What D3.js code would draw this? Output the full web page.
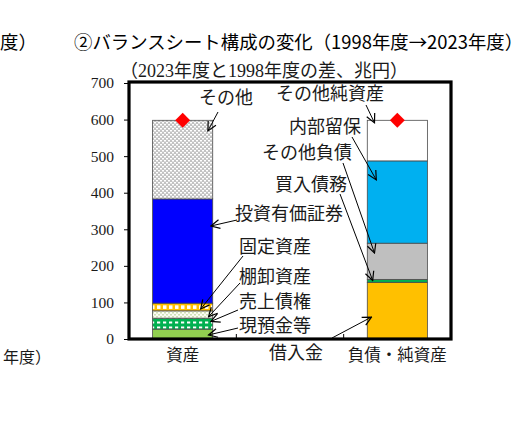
<!DOCTYPE html>
<html>
<head>
<meta charset="utf-8">
<script src="https://cdn.jsdelivr.net/npm/d3@7"></script>
<style>
  body { margin: 0; background: #fff; }
  svg { display: block; }
</style>
</head>
<body>
<div id="chart"></div>
<script>
// categories on the x axis (the middle slot is empty, as in the original)
var categories = ["資産", "", "負債・純資産"];

// assets side, bottom to top (兆円)
var assetItems  = ["現預金等", "売上債権", "棚卸資産", "固定資産", "投資有価証券", "その他"];
var assetValues = [27, 30, 20, 21, 285, 215];

// liabilities & net assets side, bottom to top (兆円)
var liabItems  = ["借入金", "買入債務", "その他負債", "内部留保", "その他純資産"];
var liabValues = [155, 8, 99, 225, 111];

// total change (red diamonds)
var totalCats   = ["資産", "負債・純資産"];
var totalValues = [598, 598];

var yTicks = [0, 100, 200, 300, 400, 500, 600, 700];

// where each callout arrow points: value on the y axis and share across the bar
var calloutTips = {
    "その他":       { cat: "資産", value: 569, at: 0.92 },
    "投資有価証券": { cat: "資産", value: 309, at: 0.97 },
    "固定資産":     { cat: "資産", value: 82,  at: 0.80 },
    "棚卸資産":     { cat: "資産", value: 61,  at: 0.93 },
    "売上債権":     { cat: "資産", value: 48,  at: 0.97 },
    "現預金等":     { cat: "資産", value: 11,  at: 0.93 },
    "その他純資産": { cat: "負債・純資産", value: 591, at: 0.12 },
    "内部留保":     { cat: "負債・純資産", value: 435, at: 0.15 },
    "その他負債":   { cat: "負債・純資産", value: 235, at: 0.12 },
    "買入債務":     { cat: "負債・純資産", value: 160, at: 0.09 },
    "借入金":       { cat: "負債・純資産", value: 60,  at: 0.07 }
};

// label placement (pixels): text left/centre and where the leader line starts
var calloutLayout = {
    "その他":       { tx: 199, ty: 98,  lx: 218, ly: 112 },
    "投資有価証券": { tx: 235, ty: 214, lx: 237, ly: 220 },
    "固定資産":     { tx: 239, ty: 247, lx: 243, ly: 256 },
    "棚卸資産":     { tx: 239, ty: 277, lx: 240, ly: 283 },
    "売上債権":     { tx: 239, ty: 302, lx: 238, ly: 310 },
    "現預金等":     { tx: 239, ty: 326, lx: 238, ly: 328 },
    "その他純資産": { tx: 276, ty: 94,  lx: 366, ly: 105 },
    "内部留保":     { tx: 289, ty: 127, lx: 352, ly: 137 },
    "その他負債":   { tx: 262, ty: 153, lx: 343, ly: 163 },
    "買入債務":     { tx: 275, ty: 185, lx: 340, ly: 194 },
    "借入金":       { tx: 269, ty: 353, lx: 332, ly: 338 }
};

var width = 528, height = 429;
var plot = { left: 129, right: 451, top: 83, bottom: 339 };

var serif = "'Liberation Serif', 'Noto Sans CJK JP', serif";
var gothic = "'Noto Sans CJK JP', sans-serif";

var svg = d3.select("#chart").append("svg")
    .attr("width", width)
    .attr("height", height);

var defs = svg.append("defs");

// fill patterns
function makePattern(id, w, h, bg, fg, cells) {
    var p = defs.append("pattern")
        .attr("id", id)
        .attr("patternUnits", "userSpaceOnUse")
        .attr("width", w).attr("height", h);
    p.append("rect").attr("width", w).attr("height", h).attr("fill", bg);
    cells.forEach(function (c) {
        p.append("rect")
            .attr("x", c[0]).attr("y", c[1])
            .attr("width", c[2]).attr("height", c[3])
            .attr("fill", fg);
    });
}
makePattern("pOther", 4, 4, "#c2c2c2", "#ffffff", [[0, 0, 2, 1.5], [2, 2, 2, 1.5]]);
makePattern("pFixed", 6, 7.4, "#ffc000", "#ffffff", [[1, 2, 3.5, 3.5]]);
makePattern("pInv", 4, 4, "#fcfcf4", "#cfe0b6", [[0, 0, 2, 1.5], [2, 2, 2, 1.5]]);
makePattern("pRecv", 6, 5, "#00b050", "#ffffff", [[1, 1.5, 3.2, 2]]);

var assetFills = ["#92d050", "url(#pRecv)", "url(#pInv)", "url(#pFixed)", "#0000ff", "url(#pOther)"];
var liabFills  = ["#ffc000", "#00b050", "#bfbfbf", "#00b0f0", "#ffffff"];

defs.append("marker")
    .attr("id", "arrow")
    .attr("viewBox", "0 0 10 10")
    .attr("refX", 9).attr("refY", 5)
    .attr("markerUnits", "userSpaceOnUse")
    .attr("markerWidth", 11).attr("markerHeight", 11)
    .attr("orient", "auto")
  .append("path")
    .attr("d", "M1,1 L9,5 L1,9")
    .attr("fill", "none")
    .attr("stroke", "#000")
    .attr("stroke-width", 1.1);

// scales
var x = d3.scaleBand()
    .domain(categories)
    .range([plot.left, plot.right]);

var barWidth = x.bandwidth() * 0.56;

var y = d3.scaleLinear()
    .domain([0, 700])
    .range([plot.bottom, plot.top]);

// stacked segments
function stackSegments(cat, items, values, fills) {
    var cum = 0;
    return items.map(function (name, i) {
        var seg = { cat: cat, name: name, y0: cum, y1: cum + values[i], fill: fills[i] };
        cum += values[i];
        return seg;
    });
}
var segments = stackSegments("資産", assetItems, assetValues, assetFills)
    .concat(stackSegments("負債・純資産", liabItems, liabValues, liabFills));

function barLeft(cat) {
    return x(cat) + (x.bandwidth() - barWidth) / 2;
}

svg.append("g").selectAll("rect")
    .data(segments)
    .enter().append("rect")
    .attr("x", function (d) { return barLeft(d.cat); })
    .attr("y", function (d) { return y(d.y1); })
    .attr("width", barWidth)
    .attr("height", function (d) { return y(d.y0) - y(d.y1); })
    .attr("fill", function (d) { return d.fill; })
    .attr("stroke", "#4a4a4a")
    .attr("stroke-width", 0.8);

// red diamonds for the totals
svg.append("g").selectAll("path")
    .data(totalValues)
    .enter().append("path")
    .attr("d", d3.symbol().type(d3.symbolSquare).size(112))
    .attr("transform", function (d, i) {
        return "translate(" + (x(totalCats[i]) + x.bandwidth() / 2) + "," + y(d) + ") rotate(45)";
    })
    .attr("fill", "#ff0000");

// y axis
var yAxis = svg.append("g")
    .attr("transform", "translate(" + plot.left + ",0)")
    .call(d3.axisLeft(y).tickValues(yTicks).tickSize(5).tickPadding(10));
yAxis.select(".domain").remove();
yAxis.selectAll("line").attr("stroke", "#000").attr("stroke-width", 1);
yAxis.selectAll("text")
    .attr("font-family", serif)
    .attr("font-size", 15.5)
    .attr("fill", "#1a1a1a");

// category ticks between the bands, pointing up from the axis
svg.append("g").selectAll("line")
    .data(categories.slice(1))
    .enter().append("line")
    .attr("x1", function (d) { return x(d); })
    .attr("x2", function (d) { return x(d); })
    .attr("y1", plot.bottom)
    .attr("y2", plot.bottom - 5)
    .attr("stroke", "#000")
    .attr("stroke-width", 1);

// plot frame
svg.append("rect")
    .attr("x", plot.left)
    .attr("y", plot.top - 1)
    .attr("width", plot.right - plot.left)
    .attr("height", plot.bottom - plot.top + 1)
    .attr("fill", "none")
    .attr("stroke", "#000")
    .attr("stroke-width", 3.2);

// category labels
svg.append("g").selectAll("text")
    .data(categories.filter(function (d) { return d !== ""; }))
    .enter().append("text")
    .attr("x", function (d) { return x(d) + x.bandwidth() / 2; })
    .attr("y", 355)
    .attr("text-anchor", "middle")
    .attr("dominant-baseline", "central")
    .attr("font-family", serif)
    .attr("font-size", 16.5)
    .attr("fill", "#1a1a1a")
    .text(function (d) { return d; });

// callouts
var calloutNames = assetItems.concat(liabItems);
var callouts = svg.append("g");

callouts.selectAll("line")
    .data(calloutNames)
    .enter().append("line")
    .attr("x1", function (d) { return calloutLayout[d].lx; })
    .attr("y1", function (d) { return calloutLayout[d].ly; })
    .attr("x2", function (d) { var t = calloutTips[d]; return barLeft(t.cat) + barWidth * t.at; })
    .attr("y2", function (d) { return y(calloutTips[d].value); })
    .attr("stroke", "#000")
    .attr("stroke-width", 1)
    .attr("marker-end", "url(#arrow)");

callouts.selectAll("text")
    .data(calloutNames)
    .enter().append("text")
    .attr("x", function (d) { return calloutLayout[d].tx; })
    .attr("y", function (d) { return calloutLayout[d].ty; })
    .attr("dominant-baseline", "central")
    .attr("font-family", serif)
    .attr("font-size", 18)
    .attr("fill", "#1a1a1a")
    .text(function (d) { return d; });

// titles
svg.append("text")
    .attr("x", 74)
    .attr("y", 41)
    .attr("dominant-baseline", "central")
    .attr("font-family", gothic)
    .attr("font-size", 18.4)
    .attr("font-weight", 400)
    .attr("fill", "#000")
    .text("②バランスシート構成の変化（1998年度→2023年度）");

svg.append("text")
    .attr("x", 0)
    .attr("y", 41)
    .attr("dominant-baseline", "central")
    .attr("font-family", gothic)
    .attr("font-size", 18.4)
    .attr("font-weight", 400)
    .attr("fill", "#000")
    .text("度）");

svg.append("text")
    .attr("x", 120)
    .attr("y", 71)
    .attr("dominant-baseline", "central")
    .attr("font-family", serif)
    .attr("font-size", 18)
    .attr("fill", "#1a1a1a")
    .text("（2023年度と1998年度の差、兆円）");

svg.append("text")
    .attr("x", 3)
    .attr("y", 357)
    .attr("dominant-baseline", "central")
    .attr("font-family", serif)
    .attr("font-size", 16)
    .attr("fill", "#1a1a1a")
    .text("年度）");
</script>
</body>
</html>
